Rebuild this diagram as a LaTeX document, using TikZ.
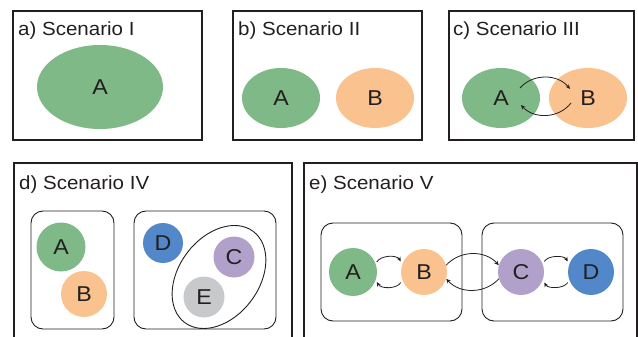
\documentclass[tikz,border=0pt]{standalone}
\usepackage{fontspec}
\setmainfont{Liberation Sans}[FakeStretch=1.08]
\usetikzlibrary{shapes.geometric,arrows.meta}
\definecolor{cgreen}{RGB}{126,185,135}
\definecolor{corange}{RGB}{249,194,143}
\definecolor{cpurple}{RGB}{177,160,201}
\definecolor{cblue}{RGB}{82,136,201}
\definecolor{cgray}{RGB}{200,201,203}
\definecolor{ink}{RGB}{35,31,32}
\begin{document}
\begin{tikzpicture}[x=1pt,y=-1pt,
  panel/.style={draw=ink,line width=1.2pt},
  group/.style={draw=ink,line width=0.9pt,rounded corners=12pt},
  ttl/.style={anchor=base west,inner sep=0pt,text=ink,font=\fontsize{19}{22}\selectfont},
  blob/.style={ellipse,inner sep=0pt,text=ink,font=\fontsize{21.5}{24}\selectfont},
  ball/.style={circle,inner sep=0pt,text=ink,font=\fontsize{21.5}{24}\selectfont},
  arr/.style={draw=ink,line width=0.8pt,-{Stealth[length=4.5pt,width=4pt]}}]
\useasboundingbox (0,0) rectangle (638,337);
% panel frames
\draw[panel] (13,11) rectangle (202,140);
\draw[panel] (233,11) rectangle (422,140);
\draw[panel] (449,11) rectangle (634,140);
\draw[panel] (14,345) -- (14,163) -- (292,163) -- (292,345);
\draw[panel] (304,345) -- (304,163) -- (637,163) -- (637,345);
% titles
\node[ttl] (ta) at (18,36) {a) Scenario I};
\node[ttl] (tb) at (238,36) {b) Scenario II};
\node[ttl] (tc) at (453,36) {c) Scenario III};
\node[ttl] (td) at (19,189) {d) Scenario IV};
\node[ttl] (te) at (309,189) {e) Scenario V};
% a
\node[blob,fill=cgreen,minimum width=126pt,minimum height=84pt] (aA) at (100,87) {A};
% b
\node[blob,fill=cgreen,minimum width=78pt,minimum height=60pt] (bA) at (281,98) {A};
\node[blob,fill=corange,minimum width=78pt,minimum height=60pt] (bB) at (375,98) {B};
% c
\node[blob,fill=cgreen,minimum width=78pt,minimum height=60pt] (cA) at (501,98) {A};
\node[blob,fill=corange,minimum width=78pt,minimum height=60pt] (cB) at (588,98) {B};
\coordinate (c1) at (520,88);
\coordinate (c2) at (570,89);
\coordinate (c3) at (571,103);
\coordinate (c4) at (521,105);
\draw[arr] (c1) to[bend left=50] (c2);
\draw[arr] (c3) to[bend left=50] (c4);
% d
\draw[group] (31,211) rectangle (114,329);
\draw[group] (134,211) rectangle (276,329);
\node[ball,fill=cgreen,minimum size=49pt] (dA) at (61,247) {A};
\node[ball,fill=corange,minimum size=46pt] (dB) at (84,294) {B};
\node[ball,fill=cblue,minimum size=40pt] (dD) at (163,243) {D};
\node[ball,fill=cpurple,minimum size=41pt] (dC) at (234,257) {C};
\node[ball,fill=cgray,minimum size=41pt] (dE) at (204,297) {E};
\node[ellipse,draw=ink,line width=0.9pt,minimum width=114pt,minimum height=80pt,rotate=53] (dCE) at (219,277) {};
% e
\draw[group] (321,223) rectangle (462,321);
\draw[group] (482,223) rectangle (623,321);
\node[ball,fill=cgreen,minimum size=48pt] (eA) at (353,272) {A};
\node[ball,fill=corange,minimum size=46pt] (eB) at (424,272) {B};
\node[ball,fill=cpurple,minimum size=46pt] (eC) at (521,272) {C};
\node[ball,fill=cblue,minimum size=46pt] (eD) at (591,272) {D};
\draw[arr,shorten <=2pt,shorten >=3pt] (eA.20) to[bend left=60] (eB.160);
\draw[arr,shorten <=3pt,shorten >=2pt] (eB.200) to[bend left=60] (eA.-20);
\draw[arr] (eB.17) to[bend left=48] (eC.163);
\draw[arr] (eC.197) to[bend left=48] (eB.-17);
\draw[arr,shorten <=3pt,shorten >=3pt] (eC.20) to[bend left=60] (eD.160);
\draw[arr,shorten <=3pt,shorten >=3pt] (eD.200) to[bend left=60] (eC.-20);
\end{tikzpicture}
\end{document}
